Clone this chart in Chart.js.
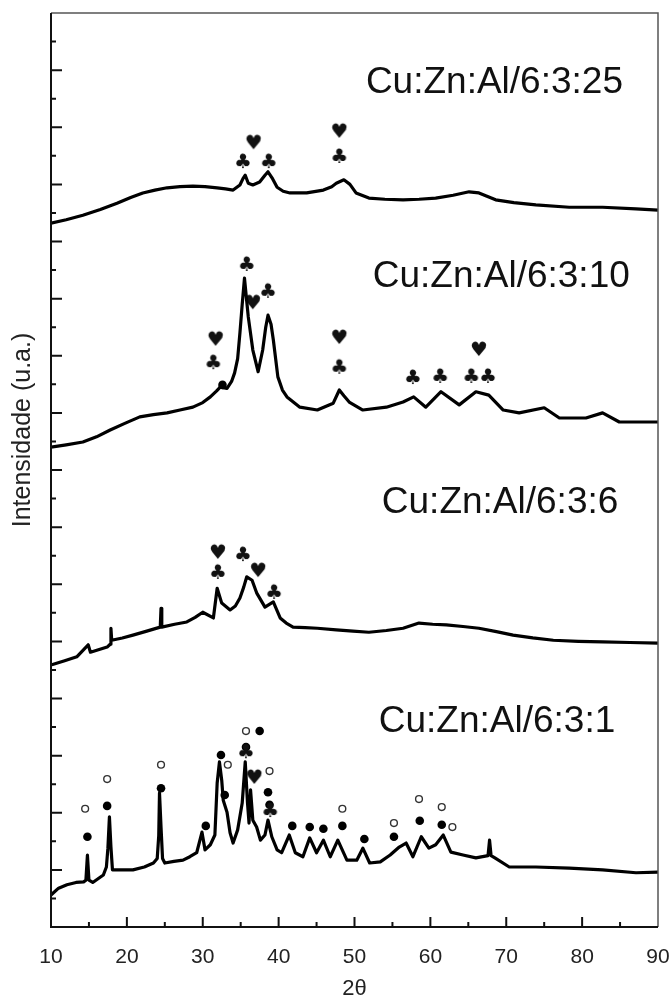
<!DOCTYPE html>
<html>
<head>
<meta charset="utf-8">
<script src="https://cdn.jsdelivr.net/npm/chart.js@4.4.0/dist/chart.umd.min.js"></script>
<style>
  html, body { margin: 0; padding: 0; background: #fff; }
  canvas { display: block; }
</style>
</head>
<body>
<canvas id="grafico" width="672" height="1000"></canvas>
<script>
// Difratogramas (2θ x intensidade, curvas deslocadas verticalmente)
const amostras = ["Cu:Zn:Al/6:3:25", "Cu:Zn:Al/6:3:10", "Cu:Zn:Al/6:3:6", "Cu:Zn:Al/6:3:1"];

const theta25 = [10, 12.0, 14.2, 16.5, 18.7, 20.5, 22.1, 23.7, 25.3, 27.0, 28.7, 30.3, 31.9, 33.0, 34.0, 34.9, 35.3, 35.6, 36.0, 36.6, 37.5, 38.2, 38.6, 39.2, 39.8, 40.6, 41.5, 43.7, 45.9, 47.0, 47.6, 48.6, 49.4, 50.2, 51.9, 54.0, 56.4, 58.5, 60.7, 63.0, 65.1, 66.4, 68.6, 71.0, 73.9, 78.3, 82.7, 87.1, 90];
const int25 = [12.32, 12.38, 12.46, 12.56, 12.67, 12.77, 12.85, 12.90, 12.94, 12.96, 12.97, 12.96, 12.94, 12.92, 12.90, 12.99, 13.10, 13.16, 13.02, 12.99, 13.04, 13.16, 13.22, 13.10, 12.95, 12.88, 12.85, 12.85, 12.90, 12.96, 13.02, 13.08, 13.00, 12.85, 12.76, 12.74, 12.73, 12.74, 12.76, 12.81, 12.87, 12.85, 12.73, 12.68, 12.64, 12.60, 12.60, 12.57, 12.55];

const theta10 = [10, 12.0, 14.2, 16.0, 17.8, 19.8, 21.7, 23.5, 25.3, 27.0, 28.7, 30.0, 31.0, 31.8, 32.3, 33.2, 33.8, 34.2, 34.6, 34.9, 35.2, 35.5, 35.8, 36.0, 36.6, 37.3, 37.9, 38.3, 38.6, 39.0, 39.3, 39.9, 40.5, 41.1, 42.8, 45.1, 47.2, 48.0, 48.6, 49.3, 51.1, 54.2, 56.4, 57.8, 59.4, 61.4, 63.8, 66.0, 67.7, 69.6, 71.7, 75.0, 77.0, 80.5, 82.7, 84.9, 90];
const int10 = [8.40, 8.44, 8.49, 8.58, 8.70, 8.82, 8.93, 8.97, 9.00, 9.05, 9.10, 9.18, 9.28, 9.38, 9.45, 9.43, 9.55, 9.70, 9.95, 10.40, 10.90, 11.36, 10.95, 10.68, 10.10, 9.72, 10.10, 10.50, 10.71, 10.55, 10.28, 9.63, 9.40, 9.28, 9.10, 9.05, 9.17, 9.40, 9.30, 9.19, 9.05, 9.10, 9.19, 9.28, 9.10, 9.37, 9.14, 9.37, 9.31, 9.05, 9.00, 9.09, 8.91, 8.91, 9.00, 8.84, 8.84];

const theta6 = [10.1, 11.8, 13.4, 14.9, 15.2, 17.4, 17.8, 17.9, 18.0, 19.4, 20.8, 22.4, 24.4, 24.5, 24.6, 26.3, 27.9, 29.0, 30.0, 31.4, 31.9, 32.5, 33.6, 34.3, 34.9, 35.4, 35.8, 36.5, 37.1, 38.2, 39.3, 40.2, 41.0, 41.9, 43.5, 45.1, 47.6, 49.8, 51.9, 54.2, 56.4, 58.5, 60.3, 62.1, 64.3, 66.4, 68.7, 70.9, 73.5, 76.2, 79.5, 82.7, 86.3, 90];
const int6 = [4.59, 4.66, 4.73, 4.94, 4.81, 4.90, 4.95, 5.23, 5.02, 5.06, 5.11, 5.17, 5.25, 5.58, 5.25, 5.30, 5.34, 5.42, 5.51, 5.41, 5.93, 5.67, 5.55, 5.62, 5.76, 5.95, 6.13, 6.07, 5.85, 5.60, 5.69, 5.41, 5.32, 5.25, 5.24, 5.23, 5.20, 5.18, 5.16, 5.19, 5.23, 5.32, 5.30, 5.29, 5.26, 5.23, 5.17, 5.11, 5.06, 5.02, 5.00, 4.99, 4.98, 4.97];

const theta1 = [10, 11, 12.1, 13.3, 14.3, 14.6, 14.8, 15.0, 15.5, 16.9, 17.3, 17.5, 17.7, 17.9, 18.1, 19.5, 20.8, 22.3, 23.5, 24.0, 24.2, 24.3, 24.5, 24.7, 25.0, 26.2, 27.4, 28.3, 29.2, 29.9, 30.3, 31.0, 31.6, 31.9, 32.2, 32.5, 32.7, 33.2, 33.6, 34.0, 34.6, 35.2, 35.6, 35.9, 36.1, 36.3, 36.6, 37.1, 37.6, 38.2, 38.6, 39.1, 39.8, 40.4, 41.4, 42.2, 43.2, 44.1, 45.0, 45.9, 46.8, 47.8, 49.0, 50.3, 51.1, 52.0, 53.4, 54.7, 55.9, 56.8, 57.7, 58.8, 59.8, 60.7, 61.7, 62.7, 64.3, 66.0, 67.6, 67.8, 68.0, 68.5, 70.4, 73.9, 78.3, 82.7, 87.1, 90];
const int1 = [0.56, 0.68, 0.74, 0.78, 0.79, 0.82, 1.26, 0.82, 0.78, 0.91, 1.05, 1.38, 1.93, 1.40, 1.00, 1.00, 1.00, 1.05, 1.12, 1.20, 1.60, 2.35, 1.75, 1.20, 1.12, 1.15, 1.17, 1.23, 1.30, 1.66, 1.35, 1.44, 1.61, 2.52, 2.89, 2.57, 2.22, 2.01, 1.65, 1.47, 1.70, 2.17, 2.89, 2.17, 1.82, 2.40, 1.87, 1.75, 1.52, 1.61, 1.87, 1.58, 1.35, 1.30, 1.61, 1.30, 1.23, 1.56, 1.30, 1.52, 1.23, 1.52, 1.17, 1.17, 1.38, 1.12, 1.14, 1.26, 1.40, 1.47, 1.23, 1.58, 1.38, 1.44, 1.61, 1.31, 1.26, 1.21, 1.25, 1.52, 1.25, 1.21, 1.05, 1.05, 1.03, 1.00, 0.95, 0.96];

// marcadores de fase
const pausX = [35.3, 38.7, 48.0, 35.8, 38.6, 31.4, 48.0, 57.7, 61.3, 65.4, 67.6, 32.0, 35.3, 39.4, 35.7, 38.9];
const pausY = [13.39, 13.39, 13.48, 11.59, 11.12, 9.87, 9.79, 9.61, 9.63, 9.63, 9.63, 6.20, 6.51, 5.85, 3.06, 2.03];
const copasX = [36.7, 48.0, 36.6, 31.7, 48.0, 66.4, 32.0, 37.3, 36.8];
const copasY = [13.72, 13.92, 10.92, 10.28, 10.31, 10.10, 6.55, 6.23, 2.61];
const cheiosX = [32.6, 14.8, 17.4, 24.5, 30.4, 32.4, 32.9, 37.5, 35.7, 38.6, 38.8, 41.8, 44.1, 45.9, 48.4, 51.3, 55.2, 58.6, 61.5];
const cheiosY = [9.49, 1.58, 2.12, 2.43, 1.77, 3.01, 2.31, 3.43, 3.15, 2.36, 2.14, 1.77, 1.75, 1.72, 1.77, 1.54, 1.58, 1.86, 1.79];
const vaziosX = [14.5, 17.4, 24.5, 33.3, 35.7, 38.8, 48.4, 55.2, 58.5, 61.5, 62.9];
const vaziosY = [2.07, 2.59, 2.84, 2.84, 3.43, 2.73, 2.07, 1.82, 2.24, 2.10, 1.75];

// posição dos nomes das amostras (em 2θ / intensidade)
const nomeX = [51.5, 52.4, 53.6, 53.2];
const nomeY = [14.77, 11.38, 7.42, 3.59];

const FONTE = '"Liberation Sans", Arial, sans-serif';
const pontos = (xs, ys) => xs.map((x, i) => ({ x, y: ys[i] }));

function icone(glifo, tam) {
    const c = document.createElement("canvas");
    c.width = tam + 4;
    c.height = tam + 4;
    const g = c.getContext("2d");
    g.fillStyle = "#111";
    g.font = `${tam}px "DejaVu Sans"`;
    g.textAlign = "center";
    g.textBaseline = "middle";
    g.fillText(glifo, c.width / 2, c.height / 2 + 1);
    return c;
}

const linha = (dados) => ({
    type: "line",
    data: dados,
    borderColor: "#000",
    borderWidth: 3.2,
    borderJoinStyle: "round",
    pointRadius: 0,
    tension: 0,
    fill: false,
});

const moldura = {
    id: "moldura",
    afterDraw(chart) {
        const { ctx, chartArea: a, scales: { x, y } } = chart;
        ctx.save();
        ctx.strokeStyle = "#555";
        ctx.lineWidth = 1.5;
        ctx.beginPath();
        ctx.moveTo(a.left, a.top);
        ctx.lineTo(a.right, a.top);
        ctx.lineTo(a.right, a.bottom);
        ctx.stroke();

        ctx.strokeStyle = "#111";
        ctx.lineWidth = 2;
        ctx.beginPath();
        ctx.moveTo(a.left, a.top);
        ctx.lineTo(a.left, a.bottom);
        ctx.lineTo(a.right, a.bottom);
        for (let v = 15; v < 90; v += 5) {
            const px = x.getPixelForValue(v);
            ctx.moveTo(px, a.bottom);
            ctx.lineTo(px, a.bottom - (v % 10 === 0 ? 10 : 5));
        }
        for (let k = 1; k < 32; k++) {
            const py = y.getPixelForValue(k / 2);
            ctx.moveTo(a.left, py);
            ctx.lineTo(a.left + (k % 2 === 0 ? 11 : 5), py);
        }
        ctx.stroke();

        // nomes das amostras
        ctx.fillStyle = "#111";
        ctx.font = `37px ${FONTE}`;
        ctx.textAlign = "left";
        ctx.textBaseline = "middle";
        amostras.forEach((nome, i) => {
            ctx.fillText(nome, x.getPixelForValue(nomeX[i]), y.getPixelForValue(nomeY[i]));
        });

        // título do eixo y
        ctx.translate(23, 430);
        ctx.rotate(-Math.PI / 2);
        ctx.textAlign = "center";
        ctx.font = `25px ${FONTE}`;
        ctx.fillStyle = "#222";
        ctx.fillText("Intensidade (u.a.)", 0, 0);
        ctx.restore();
    },
};

new Chart(document.getElementById("grafico"), {
    data: {
        datasets: [
            linha(pontos(theta25, int25)),
            linha(pontos(theta10, int10)),
            linha(pontos(theta6, int6)),
            linha(pontos(theta1, int1)),
            { type: "scatter", data: pontos(pausX, pausY), pointStyle: icone("\u2663", 20), pointRadius: 9 },
            { type: "scatter", data: pontos(copasX, copasY), pointStyle: icone("\u2665", 20), pointRadius: 9 },
            { type: "scatter", data: pontos(cheiosX, cheiosY), pointStyle: "circle", pointRadius: 4.3, backgroundColor: "#000", borderWidth: 0 },
            { type: "scatter", data: pontos(vaziosX, vaziosY), pointStyle: "circle", pointRadius: 3.4, backgroundColor: "#fff", borderColor: "#333", borderWidth: 1.4 },
        ],
    },
    options: {
        responsive: false,
        animation: false,
        events: [],
        layout: { padding: { left: 0, right: 14, top: 13, bottom: 0 } },
        plugins: { legend: { display: false }, tooltip: { enabled: false } },
        scales: {
            x: {
                type: "linear",
                min: 10,
                max: 90,
                afterFit: (s) => { s.height = 73; s.paddingLeft = 0; s.paddingRight = 0; },
                grid: { display: false },
                border: { display: false },
                ticks: { stepSize: 10, padding: 10, color: "#222", font: { size: 21, family: FONTE } },
                title: { display: true, text: "2θ", color: "#222", font: { size: 22, family: FONTE, lineHeight: 1 }, padding: { top: 0, bottom: 0 } },
            },
            y: {
                min: 0,
                max: 16,
                afterFit: (s) => { s.width = 51; },
                grid: { display: false },
                border: { display: false },
                ticks: { display: false },
            },
        },
    },
    plugins: [moldura],
});
</script>
</body>
</html>
